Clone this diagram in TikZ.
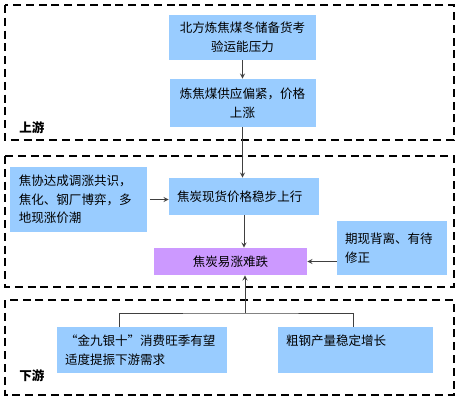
\documentclass[tikz,border=0pt]{standalone}
\usepackage{fontspec}
\setmainfont{Noto Sans CJK SC}
\usetikzlibrary{calc}

\definecolor{boxblue}{RGB}{153,204,255}
\definecolor{boxpurple}{RGB}{204,153,255}

\begin{document}
\begin{tikzpicture}[>=stealth, x=0.75pt, y=-0.75pt, font=\fontsize{9.4pt}{14pt}\selectfont]
	% --- Stili ---
	\tikzset{
		frame/.style={draw=black, line width=1.5pt, dash pattern=on 6pt off 3.6pt},
		infobox/.style={fill=boxblue, inner xsep=6pt, inner ysep=0pt},
		keybox/.style={fill=boxpurple, inner sep=0pt},
		link/.style={draw=black!75, line width=0.75pt},
		flow/.style={link, ->},
		zone/.style={font=\bfseries\fontsize{9.4pt}{11pt}\selectfont, anchor=west, inner sep=0pt}
	}
	\useasboundingbox (0,0) rectangle (460,403);
	
	% --- Cornici ---
	\draw[frame] (5,5) rectangle (454,140);
	\draw[frame] (5,156) rectangle (454,287);
	\draw[frame] (5,300) rectangle (454,395);
	\node[zone] (up) at (19,128) {上游};
	\node[zone] (down) at (19,376) {下游};
	
	% --- Monte ---
	\node[infobox, minimum width=110.25pt, minimum height=33.75pt, align=center] (north) at (242.5,37.5) {北方炼焦煤冬储备货考\\验运能压力};
	\node[infobox, minimum width=109.5pt, minimum height=36pt, align=center] (supply) at (242.5,103) {炼焦煤供应偏紧，价格\\上涨};
	
	% --- Centro ---
	\node[infobox, minimum width=102.75pt, minimum height=48.75pt, text width=89.5pt, align=left] (assoc) at (78.5,199.5) {焦协达成调涨共识，\\焦化、钢厂博弈，多\\地现涨价潮};
	\node[infobox, minimum width=112.5pt, minimum height=27.75pt, text width=100.5pt, align=left] (spot) at (244,196.5) {焦炭现货价格稳步上行};
	\node[keybox, minimum width=114.75pt, minimum height=20.25pt, align=center] (trend) at (230.5,261.5) {焦炭易涨难跌};
	\node[infobox, minimum width=82.5pt, minimum height=40.5pt, text width=70.5pt, align=left] (basis) at (392,248) {期现背离、有待\\修正};
	
	% --- Valle ---
	\node[infobox, minimum width=127.5pt, minimum height=34.5pt, text width=115.5pt, align=left] (demand) at (142,350) {“金九银十”消费旺季有望\\适度提振下游需求};
	\node[infobox, minimum width=116.25pt, minimum height=34.5pt, text width=104.25pt, align=left] (steel) at (355.5,350) {粗钢产量稳定增长\\\mbox{}};
	
	% --- Frecce ---
	\draw[flow] (north) -- (north |- supply.north);
	\draw[flow] (supply.south) -- (supply.south |- spot.north);
	\draw[flow] (spot.south) -- (spot.south |- trend.north);
	\draw[flow, shorten <=2pt] (assoc.east) -- (assoc.east -| spot.west);
	\draw[flow] (trend.east -| basis.west) -- (trend.east);
	
	\coordinate (split) at (245,313);
	\draw[link] ($(demand.north west)+(63,0)$) |- (split) -| ($(steel.north west)+(76,0)$);
	\draw[flow] (split) -- (split |- trend.south);
\end{tikzpicture}
\end{document}
